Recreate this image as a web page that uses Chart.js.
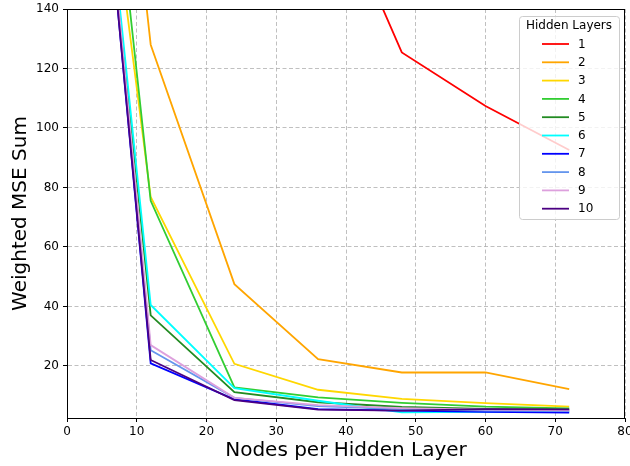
<!DOCTYPE html>
<html>
<head>
<meta charset="utf-8">
<script src="https://cdn.jsdelivr.net/npm/chart.js@4"></script>
<style>
  html, body { margin: 0; padding: 0; background: #fff; }
  #wrap { width: 630px; height: 466px; }
</style>
</head>
<body>
<div id="wrap"><canvas id="chart" width="630" height="466"></canvas></div>
<script>
// nodes per hidden layer (first point lies off the top of the plot)
const nodes = [6, 12, 24, 36, 48, 60, 72];

const layerNames = ["1", "2", "3", "4", "5", "6", "7", "8", "9", "10"];
const layerColors = ["#ff0000", "#ffa500", "#ffd700", "#32cd32", "#228b22",
  "#00ffff", "#0000ff", "#6495ed", "#dda0dd", "#4b0082"];

const mse1 = [800, 500, 300, 190, 125.4, 107.4, 92.6];
const mse2 = [255, 128, 47.5, 22.3, 17.8, 17.8, 12.2];
const mse3 = [187, 76.8, 20.7, 12.0, 8.9, 7.5, 6.3];
const mse4 = [205, 75.5, 12.8, 9.4, 7.6, 6.3, 5.7];
const mse5 = [174, 37, 11.2, 7.8, 6.2, 5.6, 5.3];
const mse6 = [176, 40.5, 12.5, 8.3, 4.4, 4.6, 4.6];
const mse7 = [172, 20.9, 8.8, 5.5, 5.0, 4.6, 4.3];
const mse8 = [174, 25.3, 9.3, 6.5, 5.5, 5.0, 4.8];
const mse9 = [175, 27, 9.3, 6.8, 5.8, 5.3, 5.1];
const mse10 = [172, 22, 8.5, 5.3, 5.0, 5.5, 5.4];

const series = [mse1, mse2, mse3, mse4, mse5, mse6, mse7, mse8, mse9, mse10];

const xTicks = [0, 10, 20, 30, 40, 50, 60, 70, 80];
const yTicks = [20, 40, 60, 80, 100, 120, 140];

const FONT = "'DejaVu Sans', sans-serif";

// frame on all four sides + matplotlib-like legend inside the plot
const framePlugin = {
  id: "frameAndLegend",
  afterDraw(chart) {
    const { ctx, chartArea: a } = chart;
    ctx.save();
    ctx.strokeStyle = "#000";
    ctx.lineWidth = 1;
    ctx.strokeRect(a.left + 0.5, a.top + 0.5, a.right - a.left - 1, a.bottom - a.top);

    // legend box
    const bx = 519, by = 16, bw = 100, bh = 203;
    ctx.fillStyle = "rgba(255,255,255,0.8)";
    ctx.strokeStyle = "#cccccc";
    ctx.beginPath();
    ctx.roundRect(bx + 0.5, by + 0.5, bw, bh, 3);
    ctx.fill();
    ctx.stroke();

    ctx.fillStyle = "#000";
    ctx.font = "12px " + FONT;
    ctx.textAlign = "center";
    ctx.textBaseline = "middle";
    ctx.fillText("Hidden Layers", bx + bw / 2, 26);

    ctx.textAlign = "left";
    chart.data.datasets.forEach((ds, i) => {
      const y = 44 + i * 18.3;
      ctx.strokeStyle = ds.borderColor;
      ctx.lineWidth = 1.8;
      ctx.beginPath();
      ctx.moveTo(542, y);
      ctx.lineTo(569, y);
      ctx.stroke();
      ctx.fillStyle = "#000";
      ctx.fillText(ds.label, 578, y + 0.5);
    });
    ctx.restore();
  }
};

new Chart(document.getElementById("chart"), {
  type: "line",
  data: {
    labels: nodes,
    datasets: series.map((vals, i) => ({
      label: layerNames[i],
      data: nodes.map((n, j) => ({ x: n, y: vals[j] })),
      borderColor: layerColors[i],
      backgroundColor: layerColors[i],
      borderWidth: 1.8,
      pointRadius: 0,
      tension: 0,
      fill: false,
      clip: 0,
      order: series.length - i,
    })),
  },
  options: {
    responsive: false,
    animation: false,
    layout: { padding: { top: 9, right: 5, left: 0, bottom: 0 } },
    plugins: {
      legend: { display: false },
      tooltip: { enabled: false },
    },
    scales: {
      x: {
        type: "linear",
        min: 0,
        max: 80,
        afterBuildTicks: (s) => { s.ticks = xTicks.map((v) => ({ value: v })); },
        afterFit: (s) => { s.height = 48; s.paddingLeft = 0; s.paddingRight = 0; },
        grid: { color: "#b0b0b0", lineWidth: 0.8, tickLength: 4, tickColor: "#000", tickWidth: 1 },
        border: { display: true, color: "#000", dash: [4, 2.5] },
        ticks: { color: "#000", font: { family: FONT, size: 12 }, padding: 3, maxRotation: 0 },
        title: {
          display: true,
          text: "Nodes per Hidden Layer",
          color: "#000",
          font: { family: FONT, size: 20 },
          padding: { top: 0, bottom: 3 },
        },
      },
      y: {
        type: "linear",
        min: 2.5,
        max: 140,
        afterBuildTicks: (s) => { s.ticks = yTicks.map((v) => ({ value: v })); },
        afterFit: (s) => { s.width = 67; s.paddingTop = 0; s.paddingBottom = 0; },
        grid: { color: "#b0b0b0", lineWidth: 0.8, tickLength: 4, tickColor: "#000", tickWidth: 1 },
        border: { display: true, color: "#000", dash: [4, 2.5] },
        ticks: { color: "#000", font: { family: FONT, size: 12 }, padding: 4 },
        title: {
          display: true,
          text: "Weighted MSE Sum",
          color: "#000",
          font: { family: FONT, size: 20 },
          padding: { top: 9, bottom: 0 },
        },
      },
    },
  },
  plugins: [framePlugin],
});
</script>
</body>
</html>
